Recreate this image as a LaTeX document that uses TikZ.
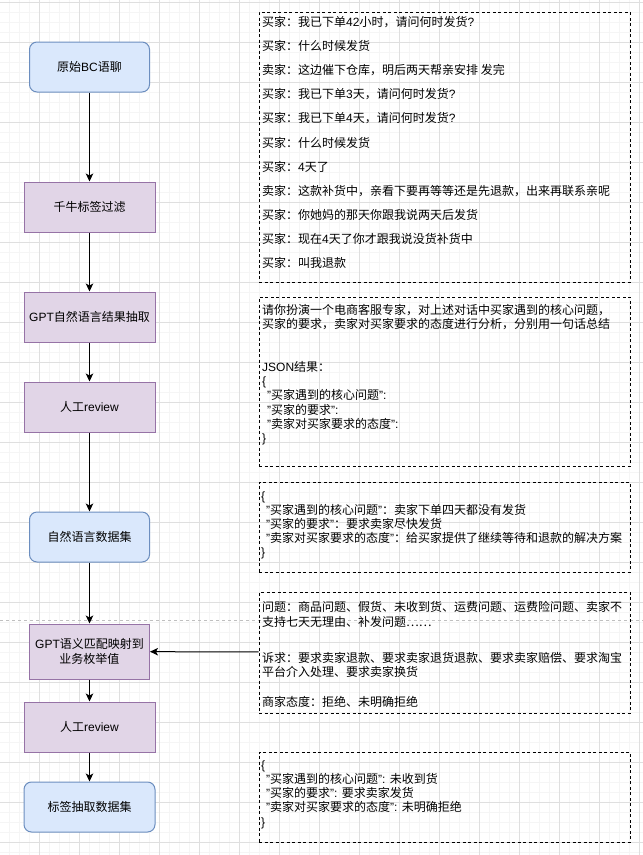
\documentclass[tikz,border=0pt]{standalone}
\usepackage{fontspec}
\setmainfont{Liberation Sans}
\newfontfamily\cjk{Noto Sans CJK SC}
\XeTeXinterchartokenstate=1
\newXeTeXintercharclass\cjkclass
\count255="3000
\loop\XeTeXcharclass\count255=\cjkclass\ifnum\count255<"303F\advance\count255 by 1\repeat
\count255="4E00
\loop\XeTeXcharclass\count255=\cjkclass\ifnum\count255<"9FFF\advance\count255 by 1\repeat
\count255="FF00
\loop\XeTeXcharclass\count255=\cjkclass\ifnum\count255<"FFEF\advance\count255 by 1\repeat
\XeTeXcharclass"2026=\cjkclass
\XeTeXinterchartoks 0 \cjkclass = {\cjk}
\XeTeXinterchartoks 4095 \cjkclass = {\cjk}
\XeTeXinterchartoks \cjkclass 0 = {\rmfamily}
\XeTeXinterchartoks 4095 0 = {\rmfamily}
\usepackage{tikz}
\usetikzlibrary{arrows.meta}
\definecolor{bluefill}{HTML}{DAE8FC}
\definecolor{blueline}{HTML}{6C8EBF}
\definecolor{purplefill}{HTML}{E1D5E7}
\definecolor{purpleline}{HTML}{9673A6}

\begin{document}
\begin{tikzpicture}[x = 1pt, y = -1pt,
        databox/.style = {draw=blueline, fill=bluefill, line width=1pt, rounded corners=7.5pt,
                          minimum height=50pt, align=center, font=\fontsize{12}{15}\selectfont},
        procbox/.style = {draw=purpleline, fill=purplefill, line width=1pt,
                          minimum height=50pt, align=center, font=\fontsize{12}{15}\selectfont},
        notebox/.style = {draw, line width=0.8pt, dash pattern=on 3pt off 2.5pt,
                          minimum width=371pt, inner sep=0pt},
        notetext/.style = {anchor=west, inner sep=0pt, align=left},
        flow/.style = {line width=1pt, -{Stealth[length=8pt, width=7.5pt, inset=2pt]}}]
        \useasboundingbox (0,0) rectangle (643,855);
        \fill[white] (0,0) rectangle (643,855);
        \foreach \x in {9,19,...,639} \draw[gray!8] (\x,0) -- (\x,855);
        \foreach \y in {2,12,...,852} \draw[gray!8] (0,\y) -- (643,\y);
        \foreach \x in {39,79,...,639} \draw[gray!25] (\x,0) -- (\x,855);
        \foreach \y in {2,42,...,842} \draw[gray!25] (0,\y) -- (643,\y);
        \draw[gray!50, dash pattern=on 3pt off 3pt] (0,620) -- (643,620);

        \node[databox, minimum width=120pt] (raw) at (89.5,67) {原始BC语聊};
        \node[procbox, minimum width=131pt] (filter) at (89.5,207) {千牛标签过滤};
        \node[procbox, minimum width=131pt] (extract) at (89.5,317) {GPT自然语言结果抽取};
        \node[procbox, minimum width=131pt] (review) at (89.5,407) {人工review};
        \node[databox, minimum width=120pt] (nlset) at (89.5,537) {自然语言数据集};
        \node[procbox, minimum width=120pt, minimum height=55pt] (mapping) at (89.5,651.5) {GPT语义匹配映射到\\业务枚举值};
        \node[procbox, minimum width=131pt] (recheck) at (89.5,727) {人工review};
        \node[databox, minimum width=131pt] (labelset) at (89.5,807) {标签抽取数据集};

        \node[notebox, minimum height=270pt] (chat) at (444.5,147) {};
        \node[notebox, minimum height=169pt] (prompt) at (444.5,381.5) {};
        \node[notebox, minimum height=90pt] (answer) at (444.5,527) {};
        \node[notebox, minimum height=121pt] (enums) at (444.5,652.5) {};
        \node[notebox, minimum height=90pt] (labels) at (444.5,797) {};

        \node[notetext, font=\fontsize{12}{24.1}\selectfont] (chattext) at (262,142.5) {
                买家：我已下单42小时，请问何时发货?\\
                买家：什么时候发货\\
                卖家：这边催下仓库，明后两天帮亲安排 发完\\
                买家：我已下单3天，请问何时发货?\\
                买家：我已下单4天，请问何时发货?\\
                买家：什么时候发货\\
                买家：4天了\\
                卖家：这款补货中，亲看下要再等等还是先退款，出来再联系亲呢\\
                买家：你她妈的那天你跟我说两天后发货\\
                买家：现在4天了你才跟我说没货补货中\\
                买家：叫我退款};
        \node[notetext, font=\fontsize{12}{14.3}\selectfont] (prompttext) at (262,374.5) {
                请你扮演一个电商客服专家，对上述对话中买家遇到的核心问题，\\
                买家的要求，卖家对买家要求的态度进行分析，分别用一句话总结\\[28.6pt]
                JSON结果：\\
                \{\\
                \hspace*{5pt}"买家遇到的核心问题":\\
                \hspace*{5pt}"买家的要求":\\
                \hspace*{5pt}"卖家对买家要求的态度":\\
                \}};
        \node[notetext, font=\fontsize{12}{14}\selectfont] (answertext) at (261,525) {
                \{\\
                \hspace*{5pt}"买家遇到的核心问题"：卖家下单四天都没有发货\\
                \hspace*{5pt}"买家的要求"：要求卖家尽快发货\\
                \hspace*{5pt}"卖家对买家要求的态度"：给买家提供了继续等待和退款的解决方案\\
                \}};
        \node[notetext, font=\fontsize{12}{14.4}\selectfont] (enumtext) at (262,654.4) {
                问题：商品问题、假货、未收到货、运费问题、运费险问题、卖家不\\
                支持七天无理由、补发问题……\\[21.9pt]
                诉求：要求卖家退款、要求卖家退货退款、要求卖家赔偿、要求淘宝\\
                平台介入处理、要求卖家换货\\[15.2pt]
                商家态度：拒绝、未明确拒绝};
        \node[notetext, font=\fontsize{12}{14.25}\selectfont] (labeltext) at (261,794.5) {
                \{\\
                \hspace*{5pt}"买家遇到的核心问题": 未收到货\\
                \hspace*{5pt}"买家的要求": 要求卖家发货\\
                \hspace*{5pt}"卖家对买家要求的态度": 未明确拒绝\\
                \}};

        \draw[flow] (raw) -- (filter);
        \draw[flow] (filter) -- (extract);
        \draw[flow] (extract) -- (review);
        \draw[flow] (review) -- (nlset);
        \draw[flow] (nlset) -- (mapping);
        \draw[flow] (mapping) -- (recheck);
        \draw[flow] (recheck) -- (labelset);
        \draw[flow] (enums) -- (mapping);
      \end{tikzpicture}
\end{document}
